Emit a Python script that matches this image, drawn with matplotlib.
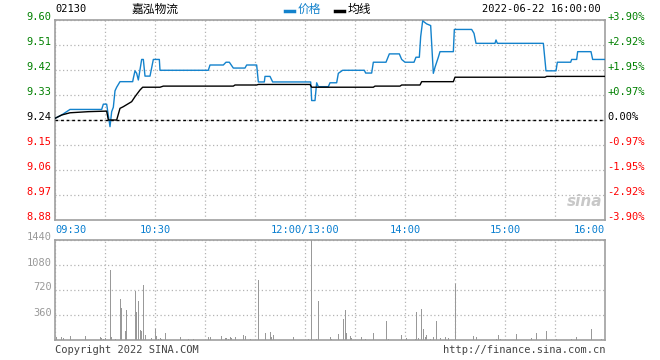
import numpy as np
import matplotlib.pyplot as plt
import matplotlib.transforms as mtransforms

plt.rcParams['font.family'] = ['DejaVu Sans Mono', 'Noto Sans CJK SC']

# datos del grafico (minutos desde 09:30, sin la pausa del mediodia)
prev_close = 9.24
price_levels = [8.88, 8.97, 9.06, 9.15, 9.24, 9.33, 9.42, 9.51, 9.60]
pct_labels = ['-3.90%', '-2.92%', '-1.95%', '-0.97%', '0.00%',
              '+0.97%', '+1.95%', '+2.92%', '+3.90%']
time_pos = [0, 60, 150, 210, 270, 330]
time_labels = ['09:30', '10:30', '12:00/13:00', '14:00', '15:00', '16:00']
vol_levels = [360, 720, 1080, 1440]

precio_min = [0, 4, 9, 28, 29, 31, 33, 34, 35, 36, 37, 39, 46.6, 47, 48, 49, 50, 52, 53, 54,
              57, 59, 62.6, 63, 92, 93, 101, 102.6, 104.6, 107, 114, 115, 121, 122, 125.6,
              126, 129, 130.6, 153.4, 153.6, 154, 156, 157, 158, 164, 165, 169, 170, 172.6,
              185.6, 186.4, 190, 191, 198.6, 200.6, 206.6, 208, 210, 215.4, 216.6, 218.6,
              219.4, 220.6, 223, 225.4, 227, 228, 230, 231, 239, 239.6, 250, 251.4, 252.6,
              264, 264.6, 265.4, 293, 294.6, 300.6, 301.4, 309.4, 310, 313, 313.6, 321.6,
              322.6, 330]
precio = [9.246, 9.258, 9.278, 9.278, 9.297, 9.297, 9.216, 9.27, 9.286, 9.345, 9.358, 9.378,
          9.378, 9.39, 9.417, 9.408, 9.384, 9.458, 9.458, 9.398, 9.398, 9.458, 9.458, 9.419,
          9.419, 9.438, 9.438, 9.448, 9.448, 9.427, 9.427, 9.438, 9.438, 9.377, 9.377, 9.397,
          9.397, 9.377, 9.377, 9.36, 9.31, 9.31, 9.374, 9.36, 9.36, 9.374, 9.374, 9.408, 9.419,
          9.419, 9.409, 9.409, 9.448, 9.448, 9.478, 9.478, 9.458, 9.448, 9.448, 9.466, 9.466,
          9.54, 9.597, 9.586, 9.58, 9.408, 9.43, 9.466, 9.486, 9.486, 9.566, 9.566, 9.552,
          9.516, 9.516, 9.528, 9.516, 9.516, 9.417, 9.417, 9.448, 9.448, 9.458, 9.458, 9.486,
          9.486, 9.458, 9.458]

media_min = [0, 4, 9, 20, 31, 32, 37, 39, 41, 46, 48, 51, 52.6, 63, 65, 107, 108, 121, 122,
             153, 154, 191, 192, 207, 208, 219, 220, 239, 240, 294, 295, 330]
media = [9.246, 9.258, 9.266, 9.27, 9.272, 9.24, 9.24, 9.282, 9.288, 9.306, 9.324, 9.348,
         9.358, 9.358, 9.362, 9.362, 9.366, 9.366, 9.368, 9.368, 9.358, 9.358, 9.362, 9.362,
         9.366, 9.366, 9.378, 9.378, 9.394, 9.394, 9.397, 9.397]

vol_min = [1, 4, 5, 9, 18, 27, 28, 29, 30, 33, 34, 36, 39, 40, 42, 43, 48, 49, 50, 51, 52, 53,
           54, 58, 60, 61, 62, 63, 64, 66, 75, 80, 83, 92, 93, 100, 102, 103, 104, 105, 106,
           108, 113, 114, 117, 122, 126, 129, 130, 131, 143, 152, 154, 157, 158,
           165, 166, 170, 173, 174, 175, 177, 178, 184, 186, 191, 199, 200, 208, 211, 216,
           217, 218, 220, 221, 222, 223, 225, 227, 229, 231, 234, 236, 240, 251, 253, 265,
           266, 267, 277, 286, 289, 295, 301, 310, 313, 322, 328]
volumen = [48, 43, 29, 58, 58, 43, 24, 19, 29, 1008, 43, 19, 590, 461, 130, 432, 706, 403, 562,
           144, 130, 792, 72, 29, 158, 58, 19, 29, 19, 101, 43, 19, 19, 48, 48, 58, 34, 24, 14,
           43, 29, 43, 72, 62, 19, 864, 101, 115, 48, 72, 43, 19, 1500, 19, 562,
           48, 14, 86, 298, 432, 101, 58, 24, 43, 19, 101, 274, 19, 72, 29, 19, 403, 29, 446,
           158, 48, 72, 19, 43, 274, 34, 43, 34, 806, 58, 43, 19, 72, 14, 86, 29, 101, 130,
           19, 19, 43, 158, 19]

fig = plt.figure(figsize=(6.6, 3.6), dpi=100)
ax = fig.add_axes([55/660, 140/360, 550/660, 200/360])
axv = fig.add_axes([55/660, 20/360, 550/660, 100/360])

gris = '#a0a0a0'
azul = '#1382cc'
for a in (ax, axv):
    a.set_xlim(0, 330)
    a.set_xticks(np.arange(0, 331, 30))
    a.tick_params(length=0, labelleft=False, labelbottom=False)
    a.grid(True, color='#b4b4b4', linestyle=(0, (1, 2)), linewidth=0.9)
    for s in a.spines.values():
        s.set_color(gris)
        s.set_linewidth(1.2)

ax.set_ylim(8.88, 9.60)
ax.set_yticks(price_levels)
ax.axhline(prev_close, color='black', linestyle=(0, (2, 2)), linewidth=1.0, zorder=3)
ax.plot(precio_min, precio, color=azul, linewidth=1.0, zorder=4)
ax.plot(media_min, media, color='black', linewidth=1.0, zorder=4)

up = mtransforms.offset_copy(ax.transData, fig=fig, x=0, y=2.5, units='dots')
lft = mtransforms.blended_transform_factory(ax.transAxes, up)
for lv, pl in zip(price_levels, pct_labels):
    if lv > prev_close:
        c = '#008000'
    elif lv < prev_close:
        c = '#ff0000'
    else:
        c = 'black'
    ax.text(-0.006, lv, f'{lv:.2f}', transform=lft, ha='right', va='center',
            fontsize=7.5, color=c)
    ax.text(1.004, lv, pl, transform=lft, ha='left', va='center',
            fontsize=7.5, color=c)

for tp, tl in zip(time_pos, time_labels):
    ha = 'left' if tp == 0 else ('right' if tp == 330 else 'center')
    ax.text(tp, -0.025, tl, transform=ax.get_xaxis_transform(), ha=ha, va='top',
            fontsize=7.5, color='#0a7fd0')

axv.set_ylim(0, 1440)
axv.set_yticks(vol_levels)
axv.bar(vol_min, np.minimum(volumen, 1440), width=0.6, color='#999999', zorder=3)
upv = mtransforms.offset_copy(axv.transData, fig=fig, x=0, y=2.5, units='dots')
lftv = mtransforms.blended_transform_factory(axv.transAxes, upv)
for lv in vol_levels:
    axv.text(-0.006, lv, str(lv), transform=lftv, ha='right', va='center',
             fontsize=7.5, color='#999999')

# cabecera
fig.text(55/660, 1 - 9/360, '02130', ha='left', va='center', fontsize=7.5)
fig.text(155/660, 1 - 9/360, '嘉泓物流', ha='center', va='center', fontsize=8.5)
fig.add_artist(plt.Line2D([285/660, 294/660], [1 - 11/360] * 2, color=azul, linewidth=2.5))
fig.text(298/660, 1 - 9/360, '价格', ha='left', va='center', fontsize=8.5, color=azul)
fig.add_artist(plt.Line2D([335/660, 344/660], [1 - 11/360] * 2, color='black', linewidth=2.5))
fig.text(348/660, 1 - 9/360, '均线', ha='left', va='center', fontsize=8.5)
fig.text(601/660, 1 - 9/360, '2022-06-22 16:00:00', ha='right', va='center', fontsize=7.5)

ax.text(0.995, 0.09, 'sina', transform=ax.transAxes, ha='right', va='center',
        fontsize=11, fontstyle='italic', fontweight='bold', color='#c8c8c8',
        family='DejaVu Sans')

fig.text(55/660, 1 - 350/360, 'Copyright 2022 SINA.COM', ha='left', va='center',
         fontsize=7.5, color='#444444')
fig.text(605/660, 1 - 350/360, 'http://finance.sina.com.cn', ha='right', va='center',
         fontsize=7.5, color='#444444')

fig.savefig('out.png', dpi=100)
